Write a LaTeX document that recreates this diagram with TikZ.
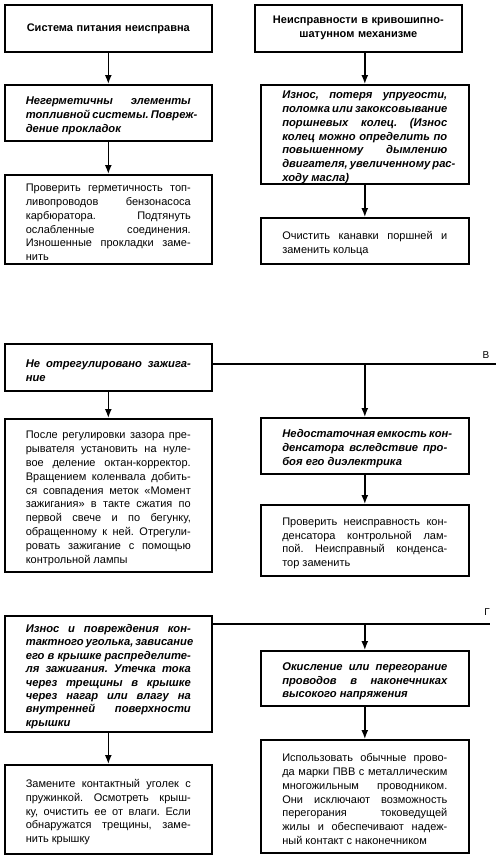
\documentclass[tikz,border=0pt]{standalone}
\usepackage{fontspec}
\setmainfont{Liberation Sans}
\usetikzlibrary{arrows.meta}
\frenchspacing
\newcommand\jl[1]{\par\noindent\hbox to 165pt{\frenchspacing\spaceskip=0pt\xspaceskip=0pt #1}\par}
\newcommand\el[1]{\par\noindent\hbox{\frenchspacing\spaceskip=0pt\xspaceskip=0pt #1}\par}
\tikzset{
  box/.style={draw=black, line width=1.6pt, anchor=north west, inner sep=0pt,
    text width=165pt, align=left, font=\fontsize{11}{13.8}\selectfont},
  prob/.style={box, font=\fontsize{11.2}{13.8}\selectfont\bfseries\itshape},
  title/.style={box, text width=190pt, align=center, font=\fontsize{11}{14}\selectfont\bfseries},
  conn/.style={line width=1.5pt, -{Latex[length=9pt,width=7pt]}},
  plain/.style={line width=1.5pt},
  lbl/.style={font=\fontsize{10}{12}\selectfont, inner sep=0pt}
}
\begin{document}
\begin{tikzpicture}[x=1pt,y=-1pt]
\useasboundingbox (0,0) rectangle (500,857);
% column 1
\node[title, minimum width=207pt, minimum height=47pt] (A1) at (4,4) {Система питания неисправна};
\node[prob, minimum width=207pt, minimum height=56pt] (A2) at (4,84) {\jl{Негерметичны элементы}\jl{топливной системы. Повреж-}\el{дение прокладок}};
\node[box, minimum width=207pt, minimum height=89pt] (A3) at (4,174) {\jl{Проверить герметичность топ-}\jl{ливопроводов бензонасоса}\jl{карбюратора. Подтянуть}\jl{ослабленные соединения.}\jl{Изношенные прокладки заме-}\el{нить}};
% column 2
\node[title, minimum width=207pt, minimum height=47pt] (B1) at (254,4) {Неисправности в кривошипно-\\шатунном механизме};
\node[prob, minimum width=208pt, minimum height=99pt] (B2) at (260,84) {\jl{Износ, потеря упругости,}\jl{поломка или закоксовывание}\jl{поршневых колец. (Износ}\jl{колец можно определить по}\jl{повышенному дымлению}\jl{двигателя, увеличенному рас-}\el{ходу масла)}};
\node[box, minimum width=208pt, minimum height=46pt] (B3) at (260,217) {\jl{Очистить канавки поршней и}\el{заменить кольца}};
% section В
\node[prob, minimum width=207pt, minimum height=47pt] (C1) at (4,343) {\jl{Не отрегулировано зажига-}\el{ние}};
\node[box, minimum width=207pt, minimum height=153pt] (C2) at (4,418) {\jl{После регулировки зазора пре-}\jl{рывателя установить на нуле-}\jl{вое деление октан-корректор.}\jl{Вращением коленвала добить-}\jl{ся совпадения меток «Момент}\jl{зажигания» в такте сжатия по}\jl{первой свече и по бегунку,}\jl{обращенному к ней. Отрегули-}\jl{ровать зажигание с помощью}\el{контрольной лампы}};
\node[prob, minimum width=208pt, minimum height=56pt] (D1) at (260,417) {\jl{Недостаточная емкость кон-}\jl{денсатора вследствие про-}\el{боя его диэлектрика}};
\node[box, minimum width=208pt, minimum height=71pt] (D2) at (260,504) {\jl{Проверить неисправность кон-}\jl{денсатора контрольной лам-}\jl{пой. Неисправный конденса-}\el{тор заменить}};
\coordinate (vend) at (496,364);
\node[lbl] (vlbl) at (486,355) {В};
% section Г
\node[prob, minimum width=207pt, minimum height=116pt, font=\fontsize{11.2}{13.4}\selectfont\bfseries\itshape] (E1) at (4,615) {\jl{Износ и повреждения кон-}\jl{тактного уголька, зависание}\jl{его в крышке распределите-}\jl{ля зажигания. Утечка тока}\jl{через трещины в крышке}\jl{через нагар или влагу на}\jl{внутренней поверхности}\el{крышки}};
\node[box, minimum width=207pt, minimum height=89pt] (E2) at (4,764) {\jl{Замените контактный уголек с}\jl{пружинкой. Осмотреть крыш-}\jl{ку, очистить ее от влаги. Если}\jl{обнаружатся трещины, заме-}\el{нить крышку}};
\node[prob, minimum width=208pt, minimum height=55pt] (F1) at (260,650) {\jl{Окисление или перегорание}\jl{проводов в наконечниках}\el{высокого напряжения}};
\node[box, minimum width=208pt, minimum height=113pt] (F2) at (260,739) {\jl{Использовать обычные прово-}\jl{да марки ПВВ с металлическим}\jl{многожильным проводником.}\jl{Они исключают возможность}\jl{перегорания токоведущей}\jl{жилы и обеспечивают надеж-}\el{ный контакт с наконечником}};
\coordinate (gend) at (490,624);
\node[lbl] (glbl) at (487,612) {Г};
% connectors
\draw[conn] (A1.south) -- (A2.north);
\draw[conn] (A2.south) -- (A3.north);
\draw[conn] (B1.south -| B2.north) -- (B2.north);
\draw[conn] (B2.south) -- (B3.north);
\draw[conn] (C1.south) -- (C2.north);
\draw[plain] (C1.east |- vend) -- (vend);
\draw[conn] (D1.north |- vend) -- (D1.north);
\draw[conn] (D1.south) -- (D2.north);
\draw[conn] (E1.south) -- (E2.north);
\draw[plain] (E1.east |- gend) -- (gend);
\draw[conn] (F1.north |- gend) -- (F1.north);
\draw[conn] (F1.south) -- (F2.north);
\end{tikzpicture}
\end{document}
